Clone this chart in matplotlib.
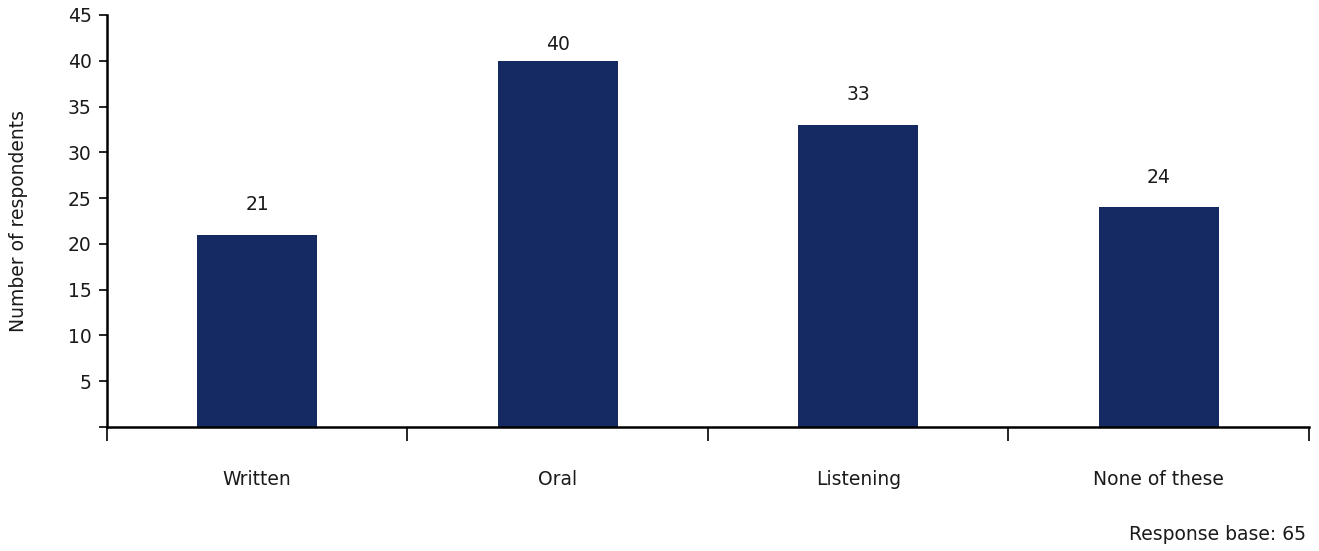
import numpy as np
import matplotlib.pyplot as plt

categories = ["Written", "Oral", "Listening", "None of these"]
counts = [21, 40, 33, 24]
y_ticks = [5, 10, 15, 20, 25, 30, 35, 40, 45]
base_note = "Response base: 65"

plt.rcParams['font.family'] = ['DejaVu Sans']
txt = "#1a1a1a"
fs = 13.5

fig = plt.figure(figsize=(13.19, 5.51), dpi=100)
ax = fig.add_axes([0.0811, 0.225, 0.9113, 0.7478])

x = np.arange(len(categories))
ax.bar(x, counts, width=0.4, color="#152962")
# value labels sit above each bar, kept inside the plot area at the top
for xi, c in zip(x, counts):
    ax.text(xi, min(c + 3.3, 41.8), str(c), ha="center", va="center",
            fontsize=fs, color=txt)

ax.set_xlim(-0.5, len(categories) - 0.5)
ax.set_ylim(0, 45)
ax.set_yticks(y_ticks)
ax.set_yticks([0], minor=True)
ax.tick_params(axis="y", which="both", labelsize=fs, length=6, width=1.2,
               direction="out", pad=5, labelcolor=txt)

ax.set_xticks(x)
ax.set_xticklabels(categories)
ax.set_xticks(np.arange(len(categories) + 1) - 0.5, minor=True)
ax.tick_params(axis="x", which="major", length=0, pad=31, labelsize=fs,
               labelcolor=txt)
ax.tick_params(axis="x", which="minor", length=10, width=1.2, direction="out")

for side in ("top", "right"):
    ax.spines[side].set_visible(False)
for side in ("left", "bottom"):
    ax.spines[side].set_linewidth(1.8)

ax.set_ylabel("Number of respondents", fontsize=fs, color=txt, labelpad=29)
fig.text(0.990, 0.012, base_note, ha="right", va="bottom", fontsize=fs,
         color=txt)

fig.savefig("out.png", dpi=100)
